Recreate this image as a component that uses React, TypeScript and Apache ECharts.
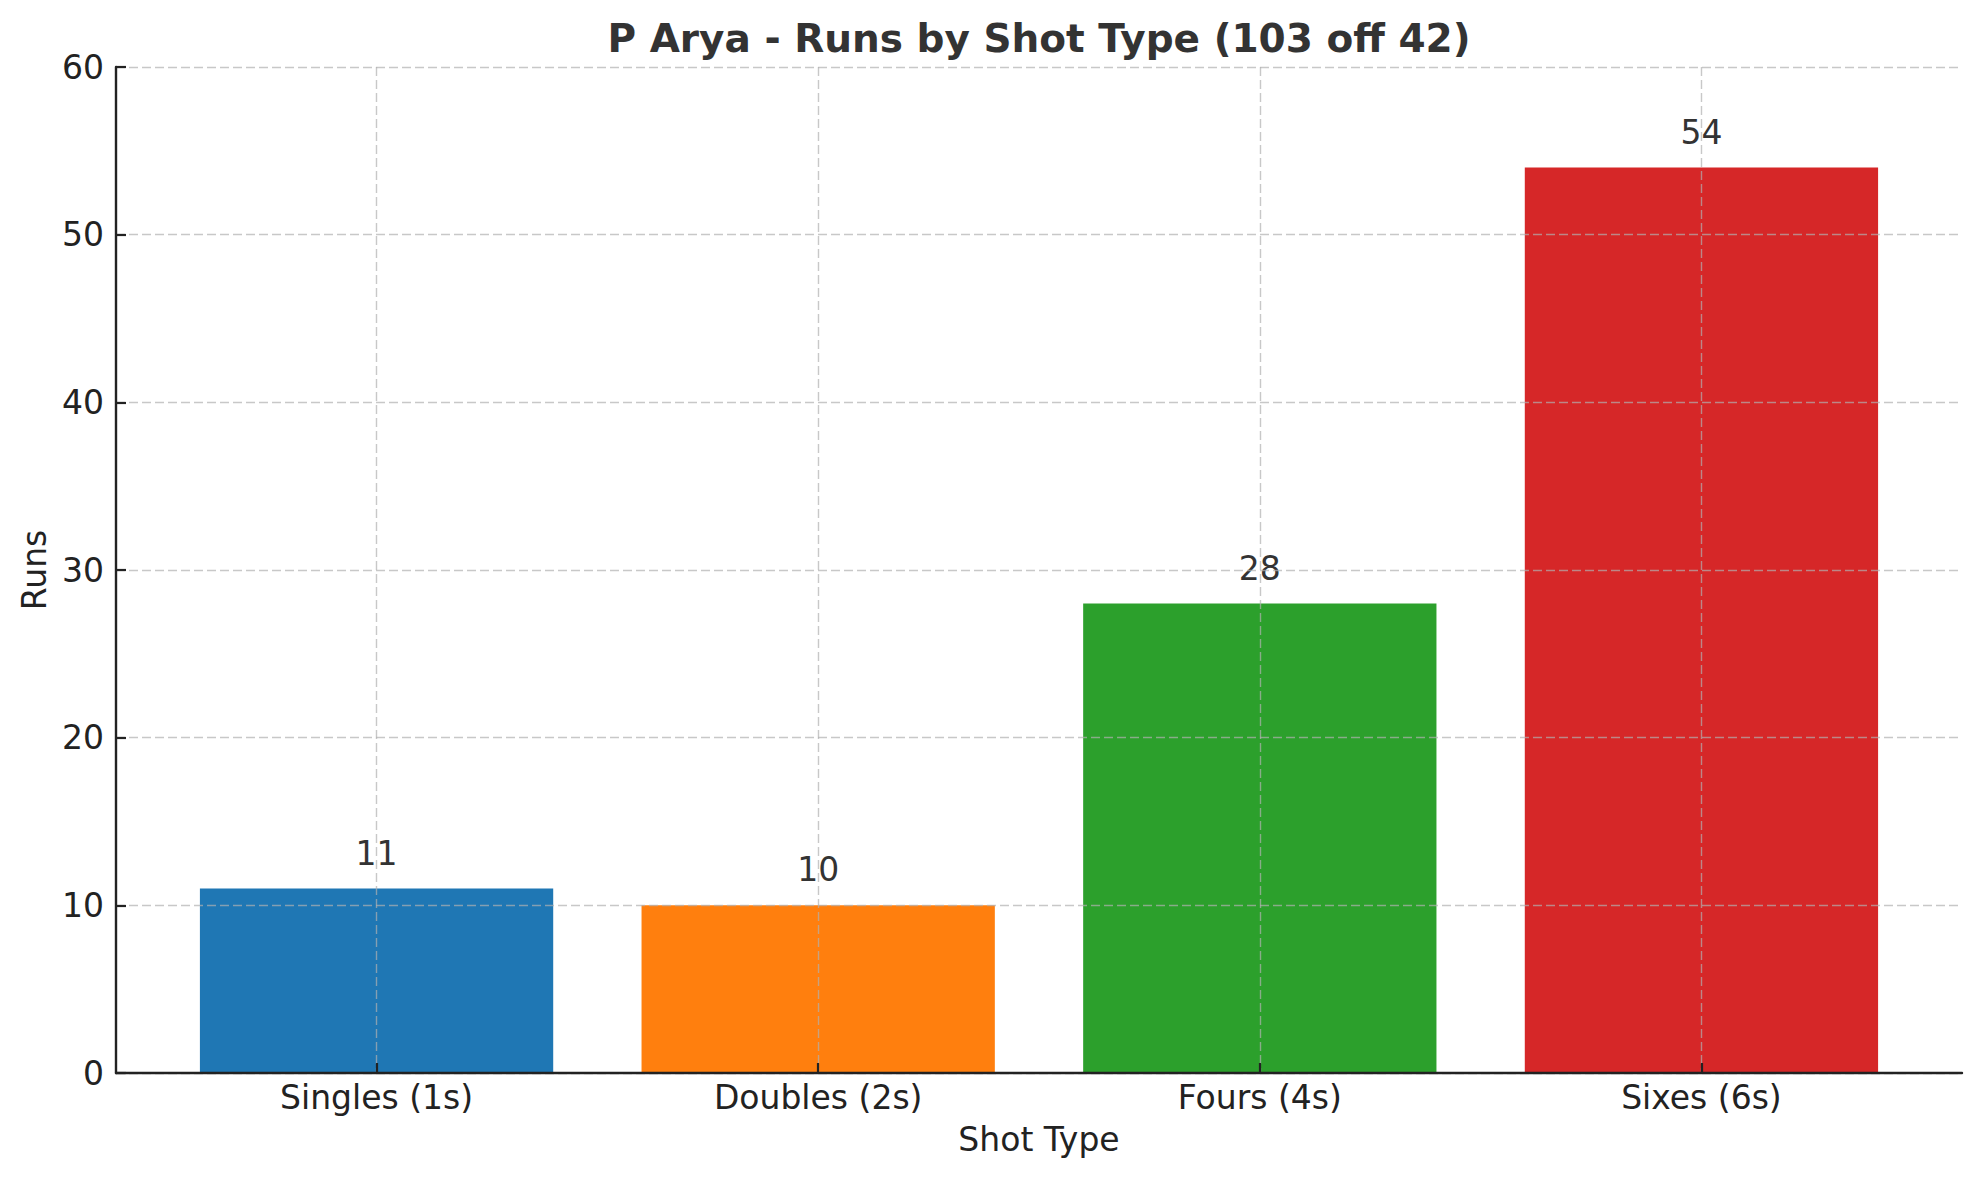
import React, { useEffect, useRef } from "react";
import * as echarts from "echarts";

const TITLE = "P Arya - Runs by Shot Type (103 off 42)";
const categories = ["Singles (1s)", "Doubles (2s)", "Fours (4s)", "Sixes (6s)"];
const runs = [11, 10, 28, 54];
const barColors = ["#1f77b4", "#ff7f0e", "#2ca02c", "#d62728"];
const yTicks = { min: 0, max: 60, interval: 10 };
const X_NAME = "Shot Type";
const Y_NAME = "Runs";

const W = 1979;
const H = 1180;
const FONT = "DejaVu Sans";

export default function App() {
  const ref = useRef<HTMLDivElement>(null);

  useEffect(() => {
    if (!ref.current) return;
    const chart = echarts.init(ref.current, null, { renderer: "svg" });

    // matplotlib-like layout: bars at 0..n-1, width 0.8, 5% margins
    const n = categories.length;
    const lo = -0.4 - 0.05 * (n - 1 + 0.8);
    const hi = n - 1 + 0.4 + 0.05 * (n - 1 + 0.8);
    const plotLeft = 116;
    const plotRight = 1962;
    const plotTop = 67;
    const plotBottom = 1073;
    const unit = (plotRight - plotLeft) / (hi - lo);
    const innerLeft = plotLeft + (-0.5 - lo) * unit;
    const innerRight = plotLeft + (n - 0.5 - lo) * unit;

    const grid = "rgba(176,176,176,0.7)";
    const axisColor = "#222222";

    chart.setOption({
      animation: false,
      backgroundColor: "#ffffff",
      textStyle: { fontFamily: FONT },
      title: {
        text: TITLE,
        left: (plotLeft + plotRight) / 2 - 5,
        top: 14,
        textAlign: "center",
        textStyle: { fontFamily: FONT, fontSize: 39, fontWeight: "bold", color: "#333333" },
      },
      grid: [
        { left: plotLeft, right: W - plotRight, top: plotTop, bottom: H - plotBottom, containLabel: false },
        { left: innerLeft, right: W - innerRight, top: plotTop, bottom: H - plotBottom, containLabel: false },
      ],
      xAxis: [
        {
          type: "value",
          gridIndex: 0,
          min: lo,
          max: hi,
          splitNumber: 4,
          z: 5,
          name: X_NAME,
          nameLocation: "middle",
          nameGap: 50,
          nameTextStyle: { fontFamily: FONT, fontSize: 33, color: "#222222" },
          axisLine: { show: true, onZero: false, lineStyle: { color: axisColor, width: 2.4 } },
          axisTick: { show: false },
          axisLabel: { show: false },
          splitLine: {
            show: true,
            showMinLine: false,
            showMaxLine: false,
            lineStyle: { color: grid, width: 1.4, type: [9, 4] },
          },
        },
        {
          type: "category",
          gridIndex: 1,
          data: categories,
          boundaryGap: true,
          z: 5,
          axisLine: { show: false, onZero: false },
          axisTick: {
            show: true,
            inside: true,
            alignWithLabel: true,
            length: 10,
            lineStyle: { color: axisColor, width: 2.2 },
          },
          axisLabel: { fontFamily: FONT, fontSize: 33, color: "#222222", margin: 8 },
          splitLine: { show: false },
        },
      ],
      yAxis: [
        {
          type: "value",
          gridIndex: 0,
          min: yTicks.min,
          max: yTicks.max,
          interval: yTicks.interval,
          z: 5,
          name: Y_NAME,
          nameLocation: "middle",
          nameGap: 65,
          nameTextStyle: { fontFamily: FONT, fontSize: 33, color: "#222222" },
          axisLine: { show: true, onZero: false, lineStyle: { color: axisColor, width: 2.4 } },
          axisTick: { show: true, inside: true, length: 10, lineStyle: { color: axisColor, width: 2.2 } },
          axisLabel: { fontFamily: FONT, fontSize: 33, color: "#222222", margin: 12 },
          splitLine: { show: true, lineStyle: { color: grid, width: 1.4, type: [9, 4] } },
        },
        {
          type: "value",
          gridIndex: 1,
          min: yTicks.min,
          max: yTicks.max,
          interval: yTicks.interval,
          show: false,
        },
      ],
      series: [
        {
          type: "bar",
          xAxisIndex: 1,
          yAxisIndex: 1,
          barWidth: "80%",
          z: 2,
          data: runs.map((v, i) => ({ value: v, itemStyle: { color: barColors[i] } })),
          label: {
            show: true,
            position: "top",
            distance: 19,
            fontFamily: FONT,
            fontSize: 33,
            color: "#333333",
          },
        },
      ],
    });

    return () => chart.dispose();
  }, []);

  return (
    <div
      ref={ref}
      style={{ position: "fixed", left: 0, top: 0, width: W, height: H, background: "#fff" }}
    />
  );
}
